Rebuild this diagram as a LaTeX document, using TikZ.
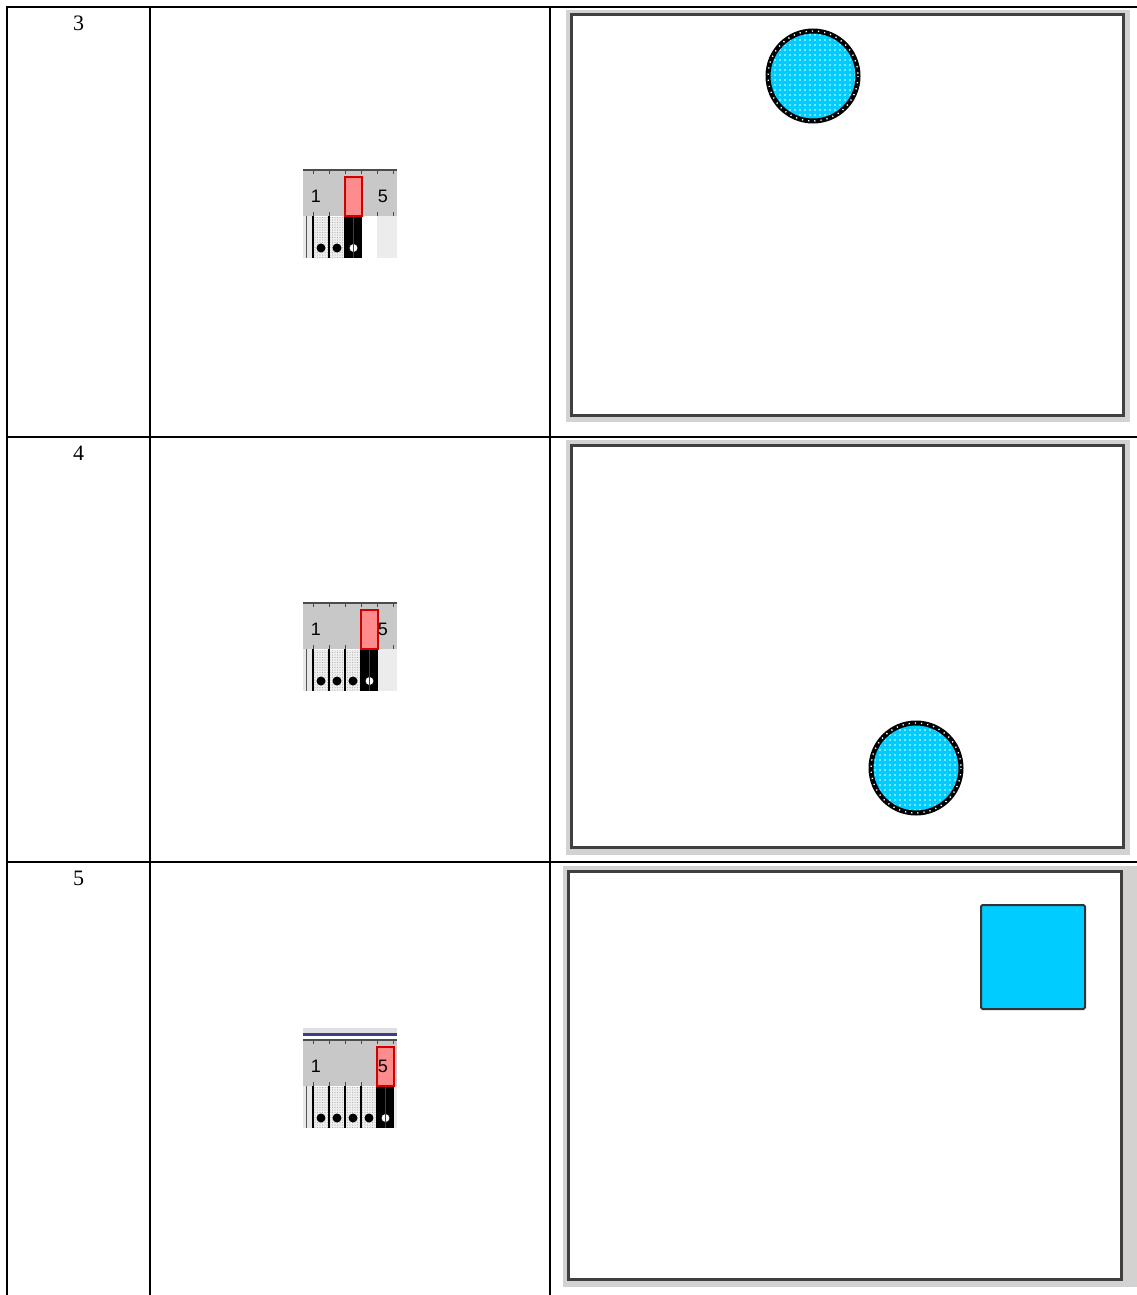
\documentclass[tikz,border=0pt]{standalone}
\usepackage{fontspec}
\setmainfont{Liberation Serif}
\setsansfont{Liberation Sans}
\usetikzlibrary{patterns}
\definecolor{stagecyan}{RGB}{0,204,255}
\definecolor{panelgray}{RGB}{212,210,208}
\definecolor{rulergray}{RGB}{200,200,200}
\definecolor{framedark}{RGB}{64,64,64}
\definecolor{playred}{RGB}{255,140,140}
\definecolor{playline}{RGB}{210,0,0}
\definecolor{barblue}{RGB}{60,60,140}
\pgfdeclarepatternformonly{stagedots}{\pgfqpoint{-1pt}{-1pt}}{\pgfqpoint{1pt}{1pt}}{\pgfqpoint{5pt}{5pt}}{%
  \pgfpathcircle{\pgfqpoint{0pt}{0pt}}{0.9pt}\pgfusepath{fill}}
\pgfdeclarepatternformonly{celldots}{\pgfqpoint{-1pt}{-1pt}}{\pgfqpoint{1pt}{1pt}}{\pgfqpoint{2.5pt}{2.5pt}}{%
  \pgfpathcircle{\pgfqpoint{0pt}{0pt}}{0.6pt}\pgfusepath{fill}}
\tikzset{
  scene/.style={x=1pt,y=-1pt,line join=miter},
  grid/.style={line width=2pt,black},
  rowlabel/.style={font=\fontsize{22}{22}\selectfont,inner sep=0pt},
  rulerlabel/.style={font=\sffamily\fontsize{18}{18}\selectfont,inner sep=0pt},
  tick/.style={draw=gray!60!black,line width=1pt},
  keycell/.style={fill=gray!12,postaction={pattern=celldots,pattern color=gray!60}},
  playhead/.style={fill=playred,draw=playline,line width=1.2pt,inner sep=0pt,minimum width=17pt,minimum height=39pt},
  stageouter/.style={fill=panelgray},
  stageinner/.style={fill=white,draw=framedark,line width=3pt},
  tween/.style={circle,inner sep=0pt,minimum size=90pt,draw=black,line width=5pt,
    preaction={fill=stagecyan},preaction={pattern=stagedots,pattern color=white}},
  tweenedge/.style={draw=white,line width=1.4pt,dash pattern=on 1.2pt off 5pt},
  keyshape/.style={inner sep=0pt,minimum size=104pt,fill=stagecyan,draw=framedark!80!black,line width=2pt,rounded corners=1.5pt},
}
\begin{document}
\begin{tikzpicture}[scene]
\useasboundingbox[fill=white] (0,0) rectangle (1137,1295);
% stage panels
\fill[stageouter] (566,10) rectangle (1130,422);
\draw[stageinner] (571,15) rectangle (1123,415);
\fill[stageouter] (566,440) rectangle (1130,855);
\draw[stageinner] (571,445) rectangle (1123,847);
\fill[stageouter] (563,866) rectangle (1137,1287);
\draw[stageinner] (568,871) rectangle (1121,1279);
% shapes on stage
\node[tween] (ball3) at (813,76) {};
\draw[tweenedge] (ball3) circle (45);
\node[tween] (ball4) at (916,768) {};
\draw[tweenedge] (ball4) circle (45);
\node[keyshape] (box5) at (1033,957) {};
% table rules
\draw[grid] (6,7) -- (1137,7);
\foreach \y in {437,862} \draw[grid] (7,\y) -- (1137,\y);
\foreach \x in {7,150,550} \draw[grid] (\x,6) -- (\x,1295);
\foreach \rowno/\ytop in {3/7,4/437,5/862}
  \node[rowlabel] (label\rowno) at (78.5,\ytop+16) {\rowno};
% timeline strips
\fill[gray!25] (303,1028) rectangle (397,1033);
\fill[barblue] (303,1033) rectangle (397,1036);
\foreach \rowno/\ytop/\nk in {3/170/2,4/603/3,5/1040/4} {
  \fill[rulergray] (303,\ytop) rectangle (397,\ytop+46);
  \draw[gray!60!black,line width=1.5pt] (303,\ytop) -- (397,\ytop);
  \foreach \k in {0,...,5} {
    \draw[tick] (313+16*\k,\ytop) -- ++(0,4);
    \draw[tick] (313+16*\k,\ytop+46) -- ++(0,-4);
  }
  \fill[white] (303,\ytop+46) rectangle (397,\ytop+88);
  \fill[gray!18] (303,\ytop+46) rectangle (313,\ytop+88);
  \fill[gray!15] (377,\ytop+46) rectangle (397,\ytop+88);
  \draw[gray!70!black] (306,\ytop+46) -- (306,\ytop+88);
  \foreach \k in {1,...,\nk} {
    \path[keycell] (297+16*\k,\ytop+47) rectangle (313+16*\k,\ytop+88);
    \fill (305+16*\k,\ytop+78) circle (4.5);
  }
  \fill (313+16*\nk,\ytop+46) rectangle (330+16*\nk,\ytop+88);
  \foreach \k in {0,...,\nk} \draw[line width=1.5pt] (313+16*\k,\ytop+46) -- (313+16*\k,\ytop+88);
  \filldraw[fill=white,draw=black,line width=0.8pt] (321.5+16*\nk,\ytop+78) circle (4.5);
  \node[playhead] (head\rowno) at (321.5+16*\nk,\ytop+26.5) {};
  \draw[playline,line width=1.5pt] (head\rowno.south) -- ++(0,41.5);
  \node[rulerlabel] (one\rowno) at (316,\ytop+26) {1};
  \node[rulerlabel] (five\rowno) at (383,\ytop+26) {5};
}
\end{tikzpicture}
\end{document}
